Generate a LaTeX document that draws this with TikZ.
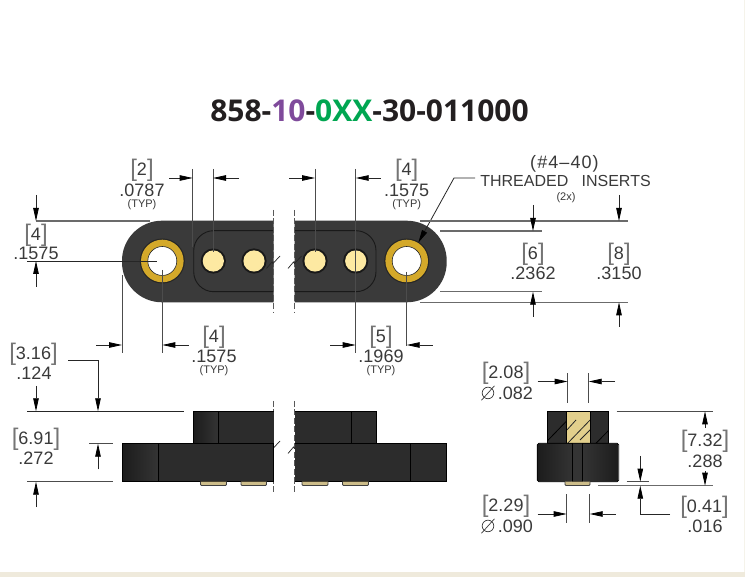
\documentclass[tikz,border=0pt]{standalone}
\usepackage{fontspec}
\setmainfont{Liberation Sans}
\newfontfamily\titlefont{Open Sans}
\usetikzlibrary{arrows.meta}
\definecolor{body}{HTML}{3A3A3A}
\definecolor{sidedark}{HTML}{1C1C1C}
\definecolor{sidemid}{HTML}{2C2C2C}
\definecolor{sidelite}{HTML}{343434}
\definecolor{gold}{HTML}{D4A92A}
\definecolor{pingold}{HTML}{FDE9A2}
\definecolor{brass}{HTML}{E2CF8C}
\definecolor{pintan}{HTML}{CDBD8A}
\definecolor{dimtext}{HTML}{3A3A3A}
\definecolor{bandcolor}{HTML}{EFEADC}
\definecolor{titledark}{HTML}{231F20}
\definecolor{titlepurple}{HTML}{7F4A9B}
\definecolor{titlegreen}{HTML}{00A651}
\newcommand{\numf}{\fontsize{18}{18}\selectfont}
\newcommand{\bk}[1]{{\color{dimtext!70}\fontsize{24}{24}\selectfont[}\raisebox{1pt}{\numf #1}{\color{dimtext!70}\fontsize{24}{24}\selectfont]}}
\newcommand{\dia}{\tikz[baseline=0pt,x=1pt,y=1pt]{\draw[line width=.7pt,dimtext] (6.5,6.3) circle (5.8); \draw[line width=.7pt,dimtext] (0,-1) -- (13,13.5);}\,}
\tikzset{
  x=1pt,y=-1pt,
  dimline/.style={line width=.8pt,draw=black!85},
  extline/.style={line width=.8pt,draw=black!70},
  extgray/.style={line width=1.1pt,draw=black!58},
  arr/.style={line width=.8pt,draw=black!85,-{Triangle[length=13pt,width=5.5pt,black]}},
  big/.style={font=\numf,text=dimtext,inner sep=0pt,anchor=center},
  brk/.style={text=dimtext,inner sep=0pt,anchor=center},
  small/.style={font=\fontsize{11}{11}\selectfont,text=dimtext,inner sep=0pt,anchor=center},
  breakline/.style={line width=.8pt,draw=black!65,dash pattern=on 6pt off 2.5pt},
  squig/.style={line width=.7pt,draw=black!85},
  outline/.style={line width=.8pt,draw=black},
  slot/.style={line width=.9pt,draw=black!90},
  pintip/.style={fill=pintan,draw=black!75,line width=.9pt,rounded corners=1pt}
}
\begin{document}
\begin{tikzpicture}
\useasboundingbox (0,0) rectangle (745,577);
\fill[white] (0,0) rectangle (745,577);
\fill[bandcolor] (0,572) rectangle (745,577);
\fill[bandcolor!60] (744,0) rectangle (745,572);
% title
\node[inner sep=0pt,anchor=center,font=\titlefont\bfseries\fontsize{30}{30}\selectfont,text=titledark] (title) at (369.5,111)
  {858-{\color{titlepurple}10}-{\color{titlegreen}0XX}-30-011000};

% ---- top view
\fill[body] (273.5,220.7) [rounded corners=40pt] -- (122,220.7) -- (122,302.3) [sharp corners] -- (273.5,302.3) -- cycle;
\fill[body] (294.7,220.7) [rounded corners=40pt] -- (446.7,220.7) -- (446.7,302.3) [sharp corners] -- (294.7,302.3) -- cycle;
\draw[slot] (273.5,230.7) [rounded corners=20pt] -- (193.7,230.7) -- (193.7,291.7) [sharp corners] -- (273.5,291.7);
\draw[slot] (294.7,230.7) [rounded corners=20pt] -- (376,230.7) -- (376,291.7) [sharp corners] -- (294.7,291.7);
% inserts
\foreach \cx in {162.3,406.7}{
  \fill[black!85] (\cx,261) circle (22.5);
  \fill[gold] (\cx,261) circle (21.3);
  \fill[white] (\cx,261) circle (14.5);
  \draw[black!85,line width=.6pt] (\cx,261) circle (14.5);
}
% pins
\foreach \cx in {213.3,254,315,355.7}{
  \fill[black!90] (\cx,261) circle (12.6);
  \fill[pingold] (\cx,261) circle (10.6);
}
% break lines
\foreach \bx in {273.5,294.6}{
  \draw[breakline] (\bx,210) -- (\bx,313);
  \draw[breakline] (\bx,401) -- (\bx,493);
}
% squiggles
\foreach \bx/\by in {266.5/268.5,288/268.5}{
  \draw[squig] (\bx,\by) -- ++(5.5,-6.5) -- ++(1,1.5) -- ++(7,-7.5);
}
\foreach \bx/\by in {266.5/453.5,288/453.5}{
  \draw[squig] (\bx,\by) -- ++(5.5,-6.5) -- ++(1,1.5) -- ++(7,-7.5);
}

% ---- side view
\shade[left color=sidedark,right color=sidelite] (193,411.2) rectangle (218.7,443.5);
\fill[sidemid] (218.7,411.2) rectangle (273.5,443.5);
\shade[left color=sidedark,right color=sidelite] (122,443.5) rectangle (158,481.7);
\fill[sidemid] (158,443.5) rectangle (273.5,481.7);
\fill[sidemid] (294.7,411.2) rectangle (376,443.5);
\fill[sidemid] (294.7,443.5) rectangle (446.7,481.7);
\draw[outline] (193,443.5) -- (193,411.2) -- (273.5,411.2);
\draw[outline] (218.7,411.2) -- (218.7,443.5);
\draw[outline] (122,443.5) rectangle (273.5,481.7);
\draw[outline] (158,443.5) -- (158,481.7);
\draw[outline] (294.7,411.2) -- (376,411.2) -- (376,443.5);
\draw[outline] (351,411.2) -- (351,443.5);
\draw[outline] (294.7,443.5) -- (446.7,443.5) -- (446.7,481.7) -- (294.7,481.7);
\draw[outline] (410.7,443.5) -- (410.7,481.7);
\foreach \xa/\xb in {200.5/226.5,241/266.5,302/328,342.5/368.5}{
  \draw[pintip] (\xa,481.7) -- (\xa,485.5) -- (\xb,485.5) -- (\xb,481.7);
}

% ---- end view
\fill[sidemid] (547.7,411.3) rectangle (608.3,443.3);
\fill[brass] (566.3,411.3) rectangle (590.3,443.3);
\begin{scope}
  \clip (547.7,411.3) rectangle (566,443.3);
  \foreach \d in {0,25}{\draw[black,line width=.8pt] (545+\d,443.3) -- (576+\d,411.3);}
\end{scope}
\begin{scope}
  \clip (566.3,411.3) rectangle (590.3,443.3);
  \draw[black!85,line width=.8pt] (566,431) -- (576,420);
  \draw[black!85,line width=.8pt] (566,445) -- (592,418);
  \draw[black!85,line width=.8pt] (580,440) -- (592,428);
\end{scope}
\begin{scope}
  \clip (590.7,411.3) rectangle (608.3,443.3);
  \draw[black,line width=.8pt] (596,443.3) -- (610,429);
\end{scope}
\draw[outline,line width=1pt] (547.7,411.3) rectangle (608.3,443.3);
\draw[outline] (566.3,411.3) -- (566.3,443.3) (590.3,411.3) -- (590.3,443.3);
\shade[left color=sidedark,right color=sidelite,rounded corners=1.5pt] (537.3,443.3) rectangle (572.7,481.7);
\shade[left color=sidelite,right color=sidedark,rounded corners=1.5pt] (582.3,443.3) rectangle (618.7,481.7);
\fill[sidelite] (572.7,443.3) rectangle (582.3,481.7);
\draw[outline,rounded corners=1.5pt] (537.3,443.3) rectangle (618.7,481.7);
\draw[outline] (572.7,443.3) -- (572.7,481.7) (582.3,443.3) -- (582.3,481.7);
\draw[pintip] (565,481.7) -- (565,485.5) -- (590,485.5) -- (590,481.7);

% ---- dims: [2] .0787
\draw[extline] (192.7,169) -- (192.7,247);
\draw[extline] (213,169) -- (213,252);
\draw[arr] (169,178) -- (192.7,178);
\draw[arr] (239,178) -- (213,178);
\node[brk] (d2a) at (142,170) {\bk{2}};
\node[big] (d2b) at (142,190) {.0787};
\node[small] (d2c) at (142,204.5) {(TYP)};

% [4] left .1575
\draw[extgray] (36,221) -- (150,221);
\draw[dimline] (27,261) -- (157,261);
\draw[arr] (36,195) -- (36,221);
\draw[arr] (36,287) -- (36,261);
\node[brk] (d4la) at (36,235) {\bk{4}};
\node[big] (d4lb) at (36,253) {.1575};

% [4] below .1575
\draw[extline] (122,275) -- (122,353);
\draw[extline] (162.3,270) -- (162.3,353);
\draw[arr] (96,345) -- (122,345);
\draw[arr] (188.7,345) -- (162.3,345);
\node[brk] (d4ba) at (214,337) {\bk{4}};
\node[big] (d4bb) at (214,356.5) {.1575};
\node[small] (d4bc) at (214,371) {(TYP)};

% [4] top right .1575
\draw[extline] (315,169) -- (315,252);
\draw[extline] (355.7,169) -- (355.7,353);
\draw[arr] (289.3,178) -- (315,178);
\draw[arr] (380.7,178) -- (355.7,178);
\node[brk] (d4ra) at (406.7,170) {\bk{4}};
\node[big] (d4rb) at (406.7,190) {.1575};
\node[small] (d4rc) at (406.7,204.5) {(TYP)};

% threaded inserts
\node[big,font=\fontsize{18}{18}\selectfont] (ti0) at (564.5,164) {\addfontfeature{LetterSpace=6}(\#4--40)};
\node[big,font=\fontsize{16}{16}\selectfont] (ti) at (565.5,180.5) {THREADED\ \ \ INSERTS};
\node[small] (ti2) at (566,197.5) {(2x)};
\coordinate (tiend) at (418.3,242.7);
\draw[arr] (475,178) -- (454,178) -- (tiend);

% right dims
\draw[extgray] (420,221) -- (627.7,221);
\draw[extgray] (440,231) -- (541.7,231);
\draw[extgray] (440,291.7) -- (541.7,291.7);
\draw[extgray] (420,302.3) -- (627.7,302.3);
\draw[arr] (533,205) -- (533,231);
\draw[arr] (533,317) -- (533,291.7);
\draw[arr] (619,195) -- (619,221);
\draw[arr] (619,327) -- (619,302.3);
\node[brk] (d6a) at (533,254) {\bk{6}};
\node[big] (d6b) at (533,273) {.2362};
\node[brk] (d8a) at (619,254) {\bk{8}};
\node[big] (d8b) at (619,273) {.3150};

% [5] .1969
\draw[extline] (406.7,272) -- (406.7,346);
\draw[arr] (330,345) -- (355.7,345);
\draw[arr] (432.7,345) -- (406.7,345);
\node[brk] (d5a) at (381,337) {\bk{5}};
\node[big] (d5b) at (381,356.5) {.1969};
\node[small] (d5c) at (381,371) {(TYP)};

% [3.16] .124
\draw[dimline,line width=1pt] (27,411.3) -- (184,411.3);
\draw[arr] (36,386) -- (36,411.3);
\draw[arr] (68,360.3) -- (98,360.3) -- (98,411.3);
\node[brk] (d316a) at (33.5,354) {\bk{3.16}};
\node[big] (d316b) at (34,373) {.124};

% [6.91] .272
\draw[extline] (89,443.7) -- (113,443.7);
\draw[extline] (27,481.7) -- (113,481.7);
\draw[arr] (98,469.5) -- (98,443.7);
\draw[arr] (36,507) -- (36,481.7);
\node[brk] (d691a) at (36,439) {\bk{6.91}};
\node[big] (d691b) at (36,458) {.272};

% [2.08]
\draw[extline] (567.7,373.3) -- (567.7,402.7);
\draw[extline] (588.7,373.3) -- (588.7,402.7);
\draw[arr] (537.7,381.5) -- (567.7,381.5);
\draw[arr] (615,381.5) -- (588.7,381.5);
\node[brk] (d208a) at (506,373.5) {\bk{2.08}};
\node[big] (d208b) at (507,393) {\dia .082};

% [7.32]
\draw[extline] (616.7,411.3) -- (713.3,411.3);
\draw[extgray] (598.3,485.7) -- (713.3,485.7);
\draw[arr] (705,428) -- (705,411.3);
\draw[arr] (705,471.5) -- (705,485.7);
\node[brk] (d732a) at (705,441) {\bk{7.32}};
\node[big] (d732b) at (705,461) {.288};

% [0.41]
\draw[extline] (626.7,481.7) -- (649,481.7);
\draw[arr] (640.3,456) -- (640.3,481.7);
\draw[arr] (670,514) -- (640.3,514) -- (640.3,485.7);
\node[brk] (d041a) at (704.5,507) {\bk{0.41}};
\node[big] (d041b) at (705,526) {.016};

% [2.29]
\draw[extline] (566.7,494.3) -- (566.7,522.7);
\draw[extline] (589.7,494.3) -- (589.7,522.7);
\draw[arr] (537.7,514) -- (566.7,514);
\draw[arr] (615.7,514) -- (589.7,514);
\node[brk] (d229a) at (506,506.5) {\bk{2.29}};
\node[big] (d229b) at (507,526) {\dia .090};
\end{tikzpicture}
\end{document}
